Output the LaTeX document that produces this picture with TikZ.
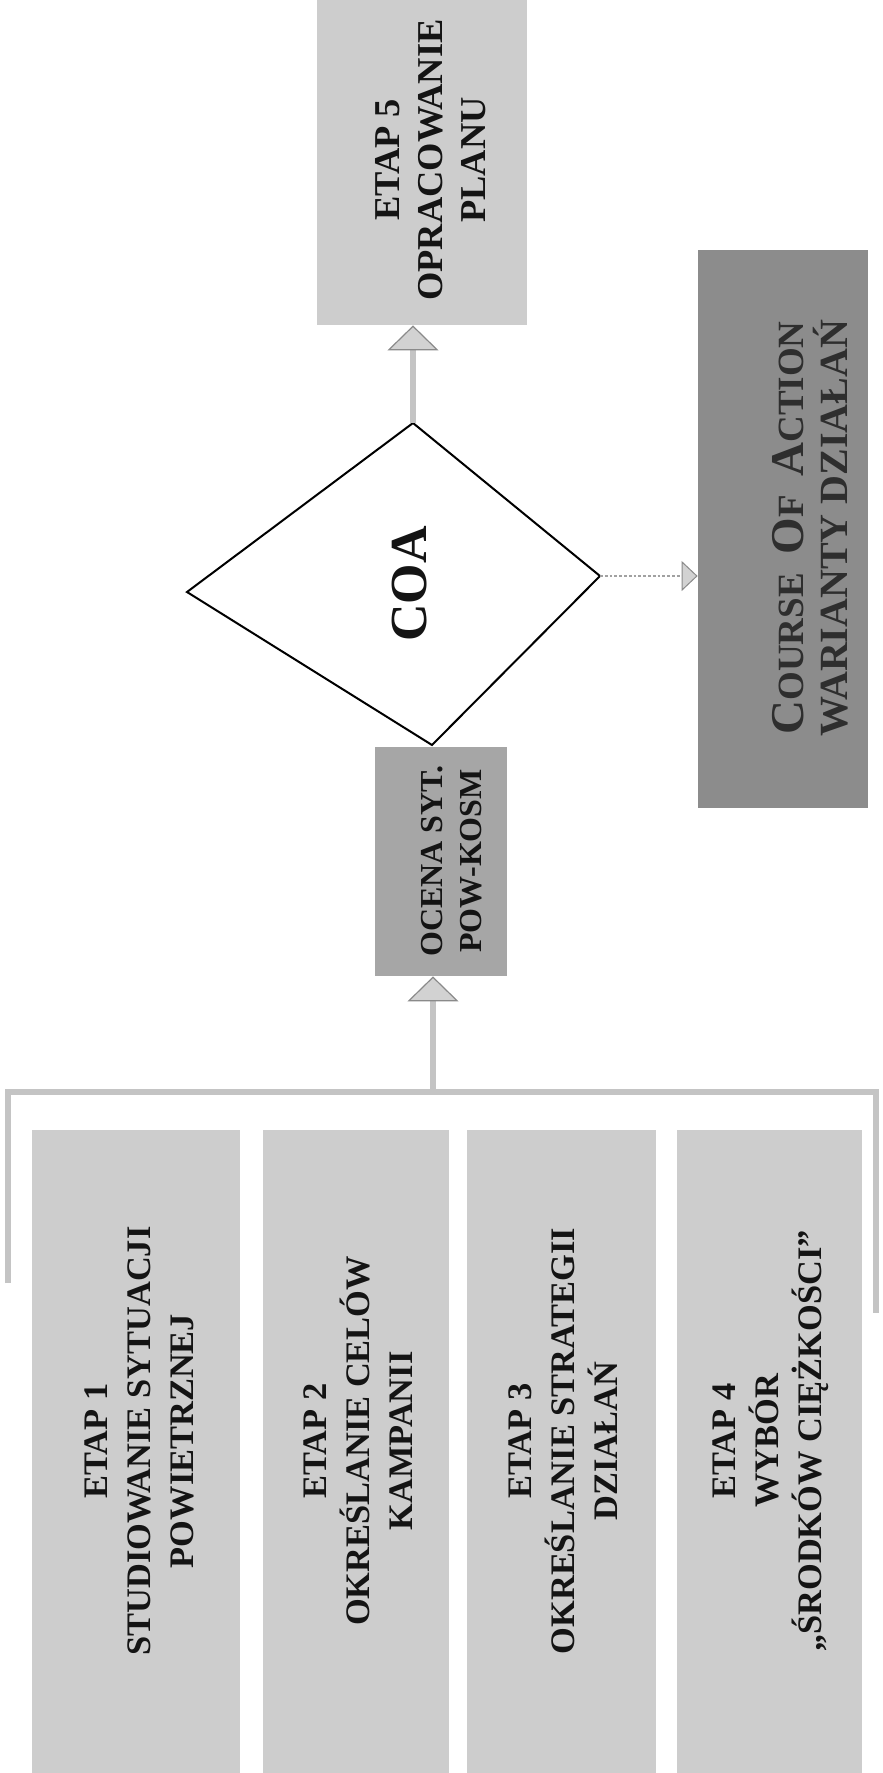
\documentclass[tikz,border=0pt]{standalone}
\usepackage{fontspec}
\setmainfont{Liberation Serif}
\usetikzlibrary{arrows.meta}
\definecolor{boxlight}{HTML}{CDCDCD}
\definecolor{boxmid}{HTML}{A6A6A6}
\definecolor{boxdark}{HTML}{8C8C8C}
\definecolor{linegray}{HTML}{C4C4C4}
\definecolor{headfill}{HTML}{D2D2D2}
\definecolor{headline}{HTML}{8A8A8A}
\definecolor{txtdark}{HTML}{141414}
\definecolor{coatxt}{HTML}{2E2E2E}
\newcommand{\fsmall}[1]{{\fontsize{18.5}{20}\selectfont #1}}
\begin{document}
\begin{tikzpicture}[x=0.5pt,y=-0.5pt,
  stagebox/.style={rectangle, draw=none, inner sep=0pt, fill=boxlight},
  stagetxt/.style={rotate=90, align=center, inner sep=0pt, text=txtdark,
     font=\bfseries\fontsize{17.2}{21.5}\selectfont},
  stemline/.style={draw=linegray, line width=3pt},
  bigtip/.style={-{Triangle[length=12.5pt,width=25.5pt,fill=headfill,color=headline,line width=0.6pt]}},
  smalltip/.style={-{Triangle[length=8pt,width=15pt,fill=headfill,color=headline,line width=0.5pt]}},
  bracketline/.style={draw=linegray, line width=3pt}
]
\path[use as bounding box, fill=white] (0,0) rectangle (883,1773);

% ETAP 5
\node[stagebox, minimum width=105pt, minimum height=162.5pt] (e5) at (422,162.5) {};
\node[stagetxt, font=\bfseries\fontsize{18.2}{21.5}\selectfont] (e5t) at (431,160) {ETAP 5\\OPRACOWANIE\\PLANU};

% diamond
\coordinate (dT) at (413,423);
\coordinate (dR) at (600,576);
\coordinate (dB) at (432,745);
\coordinate (dL) at (187,592);
\draw[line width=1pt, fill=white] (dT) -- (dR) -- (dB) -- (dL) -- cycle;
\node[rotate=90, inner sep=0pt, text=txtdark, font=\bfseries\fontsize{26}{26}\selectfont] (coa) at (410,584) {COA};

% OCENA
\node[stagebox, fill=boxmid, minimum width=66pt, minimum height=114.5pt] (oc) at (441,861.5) {};
\node[stagetxt, font=\bfseries\fontsize{16}{19.5}\selectfont] (oct) at (452,861) {OCENA SYT.\\POW-KOSM};

% COURSE OF ACTION
\node[stagebox, fill=boxdark, minimum width=85pt, minimum height=279pt] (cab) at (783,529) {};
\node[rotate=90, align=center, inner sep=0pt, text=coatxt, font=\bfseries\fontsize{20}{22}\selectfont] (cat) at (810,528)
  {{\fontsize{23.5}{24}\selectfont C\fsmall{OURSE}\hspace{0.4em}O\fsmall{F}\hspace{0.4em}A\fsmall{CTION}}\\WARIANTY DZIAŁAŃ};

% ETAP 1-4
\node[stagebox, minimum width=104pt, minimum height=321.5pt] (e1) at (136,1451.5) {};
\node[stagebox, minimum width=93pt, minimum height=321.5pt] (e2) at (356,1451.5) {};
\node[stagebox, minimum width=94.5pt, minimum height=321.5pt] (e3) at (561.5,1451.5) {};
\node[stagebox, minimum width=92.5pt, minimum height=321.5pt] (e4) at (769.5,1451.5) {};
\node[stagetxt] (e1t) at (139,1441) {ETAP 1\\STUDIOWANIE SYTUACJI\\POWIETRZNEJ};
\node[stagetxt] (e2t) at (358,1441) {ETAP 2\\OKREŚLANIE CELÓW\\KAMPANII};
\node[stagetxt] (e3t) at (563,1441) {ETAP 3\\OKREŚLANIE STRATEGII\\DZIAŁAŃ};
\node[stagetxt] (e4t) at (771,1441) {ETAP 4\\WYBÓR\\„ŚRODKÓW CIĘŻKOŚCI”};

% bracket collecting stages 1-4
\coordinate (brL) at (8,1283);
\coordinate (brTL) at (8,1092);
\coordinate (brTR) at (876,1092);
\coordinate (brR) at (876,1313);
\coordinate (stem) at (433,1092);
\draw[bracketline] (brL) -- (brTL) -- (brTR) -- (brR);

% connectors
\draw[stemline, bigtip] (stem) -- (stem |- oc.south);
\draw[stemline, bigtip] (dT) -- (dT |- e5.south);
\draw[draw=headline!80, line width=1.4pt, densely dotted, smalltip] (dR) -- (dR -| cab.west);
\end{tikzpicture}
\end{document}
